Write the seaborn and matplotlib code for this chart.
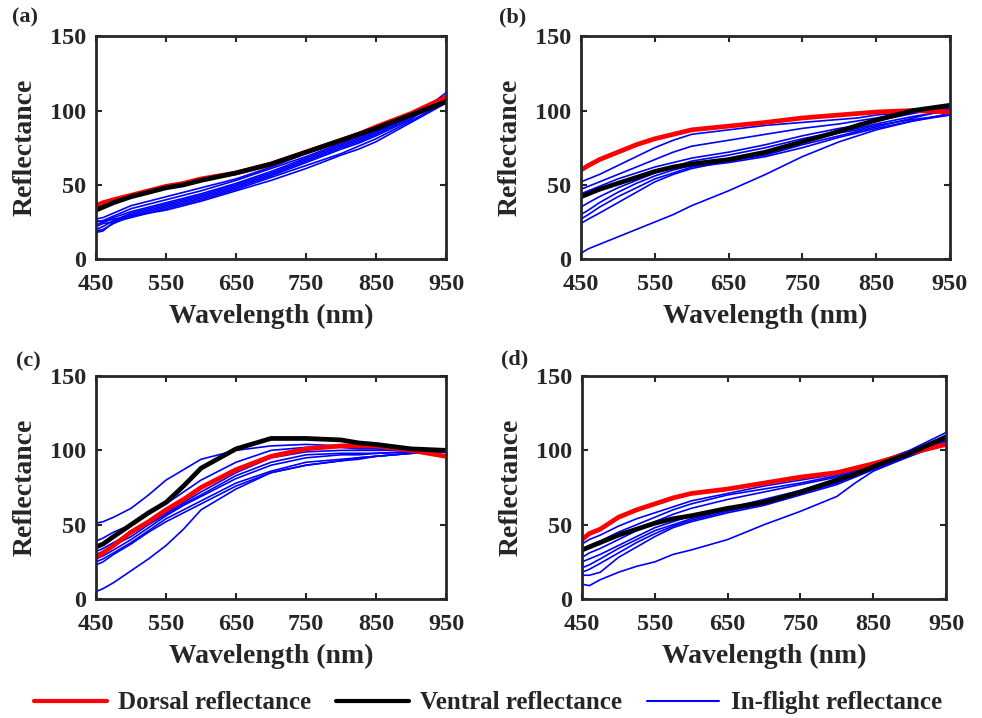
import numpy as np
import pandas as pd
import matplotlib
matplotlib.use('Agg')
import matplotlib.pyplot as plt
import seaborn as sns
from matplotlib.lines import Line2D

# ============================================================================
# DATA
# ============================================================================

wavelength = [450, 460, 475, 500, 525, 550, 575, 600, 650, 700, 750, 800, 825, 850, 900, 950]

# panel (a)
a_dorsal = [36, 38, 40, 43, 46, 49, 51, 54, 58, 64, 72, 80, 84, 89, 98, 109]
a_ventral = [33, 35, 38, 42, 45, 48, 50, 53, 58, 64, 72, 80, 84, 88, 97, 106]
a_flight = [
    [27, 28, 31, 36, 39, 42, 45, 48, 54, 62, 71, 79, 83, 88, 98, 110],
    [25, 26, 29, 34, 37, 40, 43, 46, 53, 61, 69, 78, 82, 87, 97, 108],
    [23, 25, 28, 32, 35, 38, 41, 44, 51, 59, 68, 77, 81, 86, 96, 107],
    [20, 22, 26, 31, 34, 37, 40, 43, 50, 58, 67, 76, 80, 85, 96, 108],
    [18, 19, 25, 30, 33, 36, 39, 42, 49, 57, 66, 75, 79, 84, 95, 106],
    [22, 24, 25, 28, 31, 34, 37, 40, 47, 55, 63, 71, 76, 81, 93, 106],
    [19, 20, 24, 29, 32, 35, 38, 41, 48, 56, 65, 74, 78, 83, 94, 112],
    [26, 25, 27, 29, 31, 33, 36, 39, 46, 53, 61, 70, 74, 79, 92, 105],
]

# panel (b)
b_dorsal = [60, 63, 67, 72, 77, 81, 84, 87, 89.5, 92, 95, 97, 98, 99, 100, 99]
b_ventral = [42, 44, 47, 51, 55, 59, 62, 64, 67, 72, 79, 86, 90, 93.5, 100, 103.5]
b_flight = [
    [52, 54, 57, 63, 69, 75, 80, 84, 87, 90, 92, 94, 95, 97, 99, 101],
    [47, 49, 52, 57, 62, 67, 72, 76, 80, 84, 88, 91, 93, 95, 99, 102],
    [44, 46, 49, 54, 58, 62, 65, 68, 72, 77, 83, 88, 90, 93, 98, 103],
    [35, 38, 42, 48, 53, 58, 62, 66, 70, 75, 81, 86, 88, 91, 96, 100],
    [30, 33, 38, 45, 51, 56, 60, 63, 66, 70, 77, 83, 86, 89, 95, 101],
    [27, 30, 35, 42, 48, 54, 58, 62, 65, 69, 75, 82, 85, 88, 93, 98],
    [24, 27, 31, 38, 45, 52, 57, 61, 66, 72, 79, 85, 87, 90, 94, 97],
    [4, 7, 10, 15, 20, 25, 30, 36, 46, 57, 69, 79, 83, 87, 93, 97],
]

# panel (c)
c_dorsal = [28, 31, 36, 45, 52, 60, 67, 75, 87, 96, 101, 103, 103, 103, 100, 96]
c_ventral = [35, 37, 42, 50, 58, 65, 76, 88, 101, 108, 108, 107, 105, 104, 101, 100]
c_flight = [
    [51, 52, 55, 61, 70, 80, 87, 94, 100, 103, 104, 103, 102, 102, 101, 101],
    [39, 41, 45, 50, 57, 64, 72, 80, 92, 100, 102, 102, 101, 101, 100, 101],
    [32, 34, 38, 44, 51, 58, 65, 72, 85, 95, 99, 100, 100, 100, 100, 101],
    [27, 29, 33, 40, 48, 56, 63, 69, 81, 90, 95, 97, 97, 98, 99, 100],
    [25, 27, 31, 38, 46, 54, 60, 66, 78, 86, 92, 94, 95, 96, 98, 100],
    [23, 25, 30, 37, 45, 52, 58, 64, 76, 85, 90, 93, 94, 96, 98, 99],
    [30, 32, 36, 42, 50, 57, 64, 70, 83, 92, 97, 98, 98, 98, 99, 100],
    [5, 7, 11, 19, 27, 36, 47, 60, 74, 85, 90, 93, 95, 96, 98, 99],
]

# panel (d)
d_dorsal = [40, 44, 47, 55, 60, 64, 68, 71, 74, 78, 82, 85, 88, 91, 98, 104]
d_ventral = [33, 35, 38, 43, 47, 51, 54, 56, 61, 65, 72, 80, 84, 89, 98, 109]
d_flight = [
    [37, 40, 43, 49, 54, 58, 62, 66, 71, 76, 80, 84, 87, 91, 99, 110],
    [33, 36, 39, 45, 50, 55, 60, 64, 70, 74, 78, 83, 87, 91, 100, 112],
    [28, 31, 34, 40, 46, 52, 57, 61, 67, 72, 77, 82, 86, 90, 99, 108],
    [25, 27, 30, 36, 42, 48, 52, 56, 61, 67, 73, 80, 84, 89, 98, 107],
    [21, 23, 27, 34, 40, 46, 50, 54, 60, 66, 72, 79, 84, 89, 97, 106],
    [18, 20, 24, 31, 38, 44, 49, 53, 59, 64, 71, 78, 83, 88, 97, 108],
    [16, 16, 18, 28, 35, 42, 48, 52, 58, 63, 70, 77, 82, 87, 96, 105],
    [10, 9, 13, 18, 22, 25, 30, 33, 40, 50, 59, 69, 78, 86, 96, 106],
]

panels = [
    ('(a)', a_dorsal, a_ventral, a_flight),
    ('(b)', b_dorsal, b_ventral, b_flight),
    ('(c)', c_dorsal, c_ventral, c_flight),
    ('(d)', d_dorsal, d_ventral, d_flight),
]

# ============================================================================
# PLOT
# ============================================================================

sns.set_style('ticks')
plt.rcParams['font.family'] = ['Liberation Serif', 'DejaVu Serif']
plt.rcParams['font.weight'] = 'bold'
plt.rcParams['axes.labelweight'] = 'bold'

fig = plt.figure(figsize=(9.82, 7.18), dpi=100)

# axes rectangles [left, bottom, width, height] in figure fraction
rects = [
    [0.0978, 0.639, 0.3564, 0.3106],
    [0.5916, 0.639, 0.3758, 0.3106],
    [0.0978, 0.1657, 0.3564, 0.3106],
    [0.5927, 0.1657, 0.3707, 0.3106],
]
letter_pos = [(0.012, 0.975), (0.508, 0.975), (0.016, 0.496), (0.510, 0.499)]

for (tag, dorsal, ventral, flight), rect, lp in zip(panels, rects, letter_pos):
    ax = fig.add_axes(rect)
    for curve in flight:
        sns.lineplot(x=wavelength, y=curve, color='#0000ff', lw=1.2, ax=ax)
    sns.lineplot(x=wavelength, y=dorsal, color='#ff0000', lw=3.4, ax=ax)
    sns.lineplot(x=wavelength, y=ventral, color='black', lw=3.4, ax=ax)

    ax.set(xlim=(450, 950), ylim=(0, 150))
    ax.set_xticks([450, 550, 650, 750, 850, 950])
    ax.set_yticks([0, 50, 100, 150])
    ax.tick_params(direction='in', length=4, width=1.5, top=True, right=True,
                   labelsize=17.5)
    ax.tick_params(axis='x', pad=11)
    ax.tick_params(axis='y', pad=7)
    for lab in ax.get_xticklabels() + ax.get_yticklabels():
        lab.set_fontweight('bold')
    for sp in ax.spines.values():
        sp.set_linewidth(2)
    ax.set_xlabel('Wavelength (nm)', fontsize=20, fontweight='bold', labelpad=6)
    ax.set_ylabel('Reflectance', fontsize=20, fontweight='bold', labelpad=9)
    fig.text(lp[0], lp[1], tag, fontsize=16, fontweight='bold', va='center', ha='left')

handles = [
    Line2D([], [], color='#ff0000', lw=3),
    Line2D([], [], color='black', lw=3),
    Line2D([], [], color='#0000ff', lw=1.5),
]
fig.legend(handles, ['Dorsal reflectance', 'Ventral reflectance', 'In-flight reflectance'],
           loc='center', bbox_to_anchor=(0.497, 0.021), ncol=3, frameon=False,
           prop={'size': 18, 'weight': 'bold'}, handlelength=2.9,
           handletextpad=0.45, columnspacing=1.0)

plt.savefig('out.png', dpi=100)
